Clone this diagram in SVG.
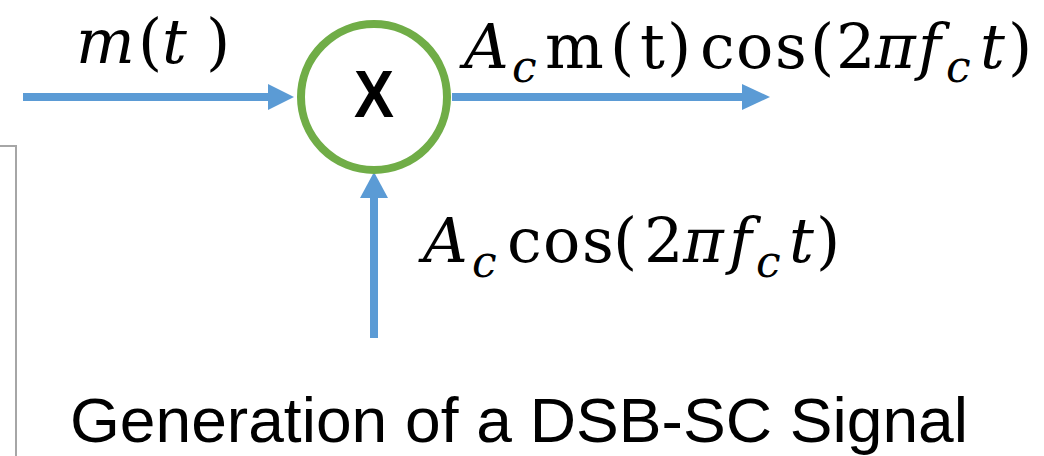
<svg xmlns="http://www.w3.org/2000/svg" width="1044" height="456" viewBox="0 0 1044 456">
<defs>
<style>
.conn{stroke:#5B9BD5;stroke-width:8;fill:none}
.head{fill:#5B9BD5}
.math{font-family:"DejaVu Serif","Liberation Serif",serif;font-size:62px;fill:#000}
.it{font-style:italic}
.sub{font-size:44px;font-style:italic}
.cap{font-family:"Liberation Sans",Arial,sans-serif;font-size:63px;fill:#000}
</style>
</defs>
<rect width="1044" height="456" fill="#fff"/>
<polyline points="0,146 16,146 16,456" fill="none" stroke="#A6A6A6" stroke-width="2"/>
<g id="connectors">
<line class="conn" x1="23" y1="97" x2="270" y2="97"/>
<polygon class="head" points="268,84 294,97 268,110"/>
<line class="conn" x1="452" y1="97" x2="744" y2="97"/>
<polygon class="head" points="742,84 770,97 742,110"/>
<line class="conn" x1="374" y1="338" x2="374" y2="196"/>
<polygon class="head" points="360,198 374,172 388,198"/>
</g>
<g id="multiplier">
<circle cx="374" cy="97" r="73" fill="#fff" stroke="#70AD47" stroke-width="8"/>
<text x="374" y="117" text-anchor="middle" font-family="Liberation Sans,Arial,sans-serif" font-weight="bold" font-size="66" textLength="40" lengthAdjust="spacingAndGlyphs">X</text>
</g>
<g id="label-input">
<text class="math" y="63"><tspan class="it" x="76">m</tspan><tspan x="138">(</tspan><tspan class="it" x="162">t</tspan><tspan x="206">)</tspan></text>
</g>
<g id="label-output">
<text class="math" y="68"><tspan class="it" x="464">A</tspan><tspan class="sub" x="512" y="82">c</tspan><tspan x="545" y="68">m</tspan><tspan x="610">(</tspan><tspan x="640">t</tspan><tspan x="667">)</tspan><tspan x="700 736 775">cos</tspan><tspan x="810">(</tspan><tspan x="836">2</tspan><tspan class="it" x="875">π</tspan><tspan class="it" x="918">f</tspan><tspan class="sub" x="946" y="82">c</tspan><tspan class="it" x="980" y="68">t</tspan><tspan x="1008">)</tspan></text>
</g>
<g id="label-carrier">
<text class="math" y="262"><tspan class="it" x="423">A</tspan><tspan class="sub" x="472" y="277">c</tspan><tspan x="507 543 582" y="262">cos</tspan><tspan x="613">(</tspan><tspan x="644">2</tspan><tspan class="it" x="683">π</tspan><tspan class="it" x="729">f</tspan><tspan class="sub" x="756" y="277">c</tspan><tspan class="it" x="789" y="262">t</tspan><tspan x="816">)</tspan></text>
</g>
<g id="caption">
<text class="cap" x="70" y="442" textLength="898" lengthAdjust="spacingAndGlyphs">Generation of a DSB-SC Signal</text>
</g>
</svg>
